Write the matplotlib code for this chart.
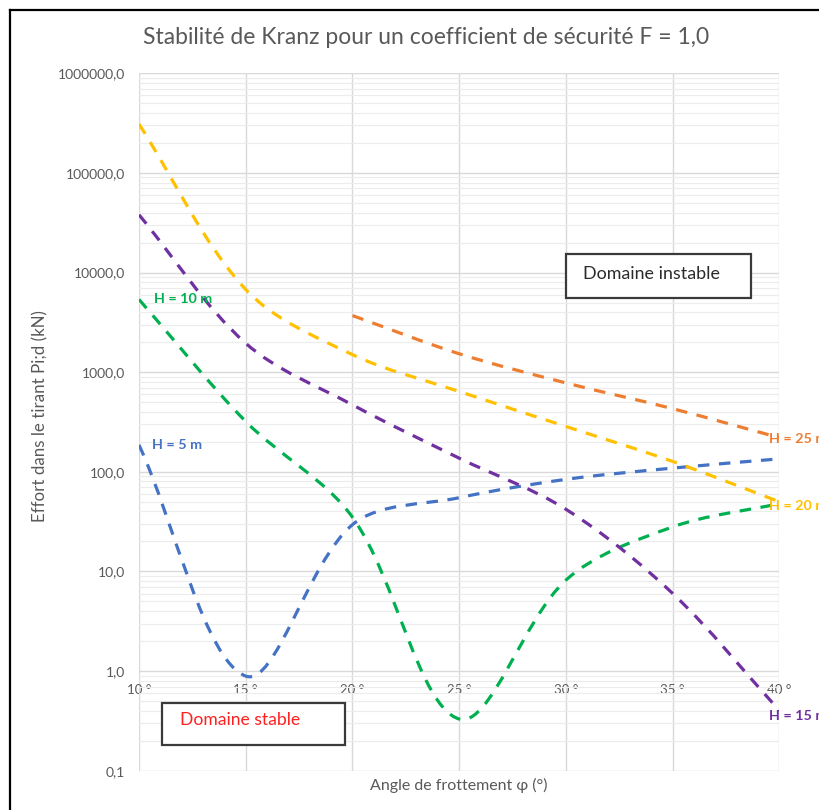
import numpy as np
import matplotlib
matplotlib.use("Agg")
import matplotlib.pyplot as plt
from matplotlib.path import Path
from matplotlib.patches import PathPatch, Rectangle
from matplotlib.lines import Line2D
from matplotlib.ticker import LogLocator, NullFormatter

plt.rcParams['font.family'] = ['Lato', 'DejaVu Sans']

# ---------------- data ----------------
angles = [10, 15, 20, 25, 30, 35, 40]
angles_h25 = [20, 25, 30, 35, 40]
h5 = [186, 0.89, 29.5, 55, 84, 109, 135]
h10 = [5370, 320, 35, 0.33, 8.2, 28, 48]
h15 = [38000, 1950, 470, 137, 42, 6.0, 0.40]
h20 = [309000, 6760, 1500, 640, 285, 127, 50]
h25 = [3700, 1530, 780, 430, 220]

series_labels = ['H = 5 m', 'H = 10 m', 'H = 15 m', 'H = 20 m', 'H = 25 m']
colors = ['#4472C4', '#00B050', '#7030A0', '#FFC000', '#ED7D31']

x_ticks = [10, 15, 20, 25, 30, 35, 40]
x_ticklabels = ['10 °', '15 °', '20 °', '25 °', '30 °', '35 °', '40 °']
y_ticks = [0.1, 1, 10, 100, 1000, 10000, 100000, 1000000]
y_ticklabels = ['0,1', '1,0', '10,0', '100,0', '1000,0', '10000,0',
                '100000,0', '1000000,0']

title = "Stabilité de Kranz pour un coefficient de sécurité F = 1,0"
xlabel = "Angle de frottement φ (°)"
ylabel = "Effort dans le tirant Pi;d (kN)"

W, H = 820, 810
fig = plt.figure(figsize=(W / 100, H / 100), dpi=100)


def fx(px):
    return px / W


def fy(py):
    return 1 - py / H


# plot area: 10° at x=139, 40° at x=779.5 ; 1e6 at y=73.3, 0.1 at y=770.7
ax = fig.add_axes([fx(139), fy(770.7), fx(779.5) - fx(139), fy(73.3) - fy(770.7)])
ax.set_yscale('log')
ax.set_xlim(10, 40)
ax.set_ylim(0.1, 1e6)

for s in ax.spines.values():
    s.set_visible(False)
ax.spines['bottom'].set_position(('data', 1))

ax.set_xticks(x_ticks)
ax.set_xticklabels(x_ticklabels)
ax.set_yticks(y_ticks)
ax.set_yticklabels(y_ticklabels)
ax.yaxis.set_minor_locator(LogLocator(base=10, subs=np.arange(2, 10)))
ax.yaxis.set_minor_formatter(NullFormatter())
ax.tick_params(axis='both', which='both', length=0, colors='#595959')
ax.tick_params(axis='x', pad=9, labelsize=9.5)
ax.tick_params(axis='y', pad=10, labelsize=10)

ax.grid(True, which='major', axis='both', color='#d9d9d9', lw=1.0, zorder=0)
ax.grid(True, which='minor', axis='y', color='#ececec', lw=0.8, zorder=0)
ax.set_axisbelow(True)


def smooth_path(xs, ys, sx=21.35, sy=99.6):
    """Excel-like smoothed line: cubic Bezier through the data points,
    built in (x, log y) space (affine to the screen) and drawn by
    matplotlib's Path. Tangent lengths are shared in proportion to the
    neighbouring chord lengths on screen (sx, sy: pixels per unit)."""
    P = np.column_stack([np.asarray(xs, float), np.log10(np.asarray(ys, float))])
    n = len(P)
    scr = P * [sx, sy]
    d = np.hypot(*(np.diff(scr, axis=0)).T)  # chord lengths
    out_c = np.zeros_like(P)
    in_c = np.zeros_like(P)
    out_c[0] = P[0] + (P[1] - P[0]) / 3
    in_c[-1] = P[-1] - (P[-1] - P[-2]) / 3
    for i in range(1, n - 1):
        D = (P[i + 1] - P[i - 1]) / 6
        tot = d[i - 1] + d[i]
        out_c[i] = P[i] + D * 2 * d[i] / tot
        in_c[i] = P[i] - D * 2 * d[i - 1] / tot
    verts = [P[0]]
    codes = [Path.MOVETO]
    for i in range(n - 1):
        verts += [out_c[i], in_c[i + 1], P[i + 1]]
        codes += [Path.CURVE4] * 3
    V = np.array(verts)
    V[:, 1] = 10 ** V[:, 1]
    return Path(V, codes)


series = [(angles, h5), (angles, h10), (angles, h15), (angles, h20), (angles_h25, h25)]
for (xs, ys), c in zip(series, colors):
    patch = PathPatch(smooth_path(xs, ys), fill=False, edgecolor=c, lw=2.3,
                      linestyle=(0, (3.6, 3.0)), capstyle='butt', zorder=3)
    ax.add_patch(patch)

# data labels (the right-hand ones run past the picture edge, as in the reference)
label_spec = [
    (angles[0], h5[0], 13, 0),
    (angles[0], h10[0], 15, 0),
    (angles[-1], h15[-1], -10, -5),
    (angles[-1], h20[-1], -10, -4),
    (angles_h25[-1], h25[-1], -10, -1),
]
for (x, y, dx, dy), lab, c in zip(label_spec, series_labels, colors):
    ax.annotate(lab, (x, y), xytext=(dx, dy), textcoords='offset pixels',
                ha='left', va='center', color=c, fontsize=10.3, fontweight='bold',
                zorder=5, annotation_clip=False)

# titles
fig.text(fx(426), fy(38), title, ha='center', va='center', color='#595959', fontsize=16.5)
fig.text(fx(459), fy(785), xlabel, ha='center', va='center', color='#595959', fontsize=11.5)
fig.text(fx(40), fy(416), ylabel, ha='center', va='center', color='#595959',
         fontsize=12.2, rotation=90)

# text boxes
fig.add_artist(Rectangle((fx(566), fy(298)), fx(751) - fx(566), fy(254) - fy(298),
                         transform=fig.transFigure, fill=True, facecolor='white',
                         edgecolor='#3a3a3a', lw=1.6, zorder=6))
fig.text(fx(583), fy(274), "Domaine instable", ha='left', va='center',
         color='#2b2b2b', fontsize=12.9, zorder=7)
fig.add_artist(Rectangle((fx(162), fy(745)), fx(345) - fx(162), fy(703) - fy(745),
                         transform=fig.transFigure, fill=True, facecolor='white',
                         edgecolor='#3a3a3a', lw=1.6, zorder=6))
fig.text(fx(180), fy(720), "Domaine stable", ha='left', va='center',
         color='#ff2020', fontsize=12.6, zorder=7)

# outer frame (left and top edges of the cropped chart)
fig.add_artist(Line2D([fx(10), fx(10)], [fy(10), fy(815)], transform=fig.transFigure,
                      color='black', lw=1.6))
fig.add_artist(Line2D([fx(10), fx(825)], [fy(10), fy(10)], transform=fig.transFigure,
                      color='black', lw=1.6))

fig.savefig('out.png', dpi=100)
